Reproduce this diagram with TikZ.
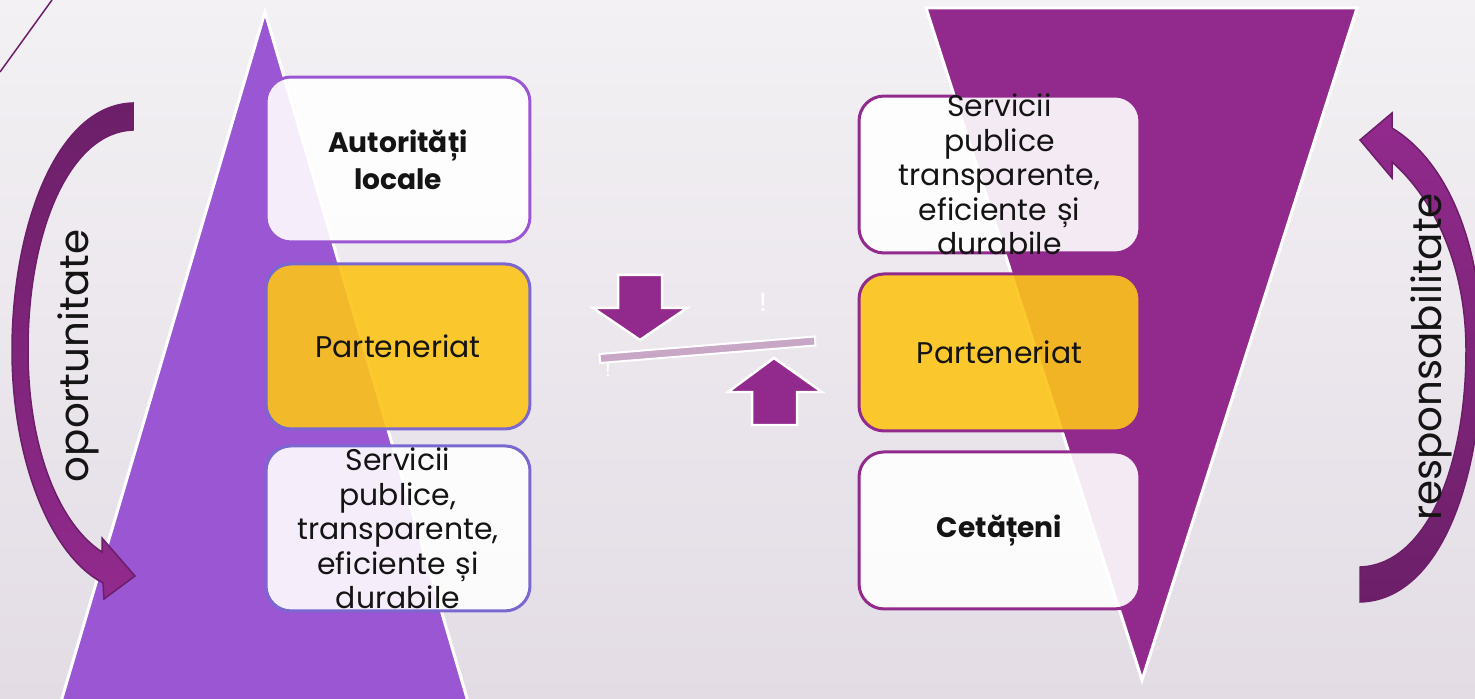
\documentclass[tikz,border=0pt]{standalone}
\usepackage{fontspec}
\setmainfont{Poppins}
\usetikzlibrary{positioning}

\definecolor{bgtop}{HTML}{F3F1F4}
\definecolor{bgbot}{HTML}{E3DCE5}
\definecolor{violet}{HTML}{9A56D3}
\definecolor{plum}{HTML}{922A8D}
\definecolor{plumdark}{HTML}{6C1F68}
\definecolor{gold}{HTML}{FCC419}
\definecolor{bluevio}{HTML}{7A68D0}
\definecolor{plankcol}{HTML}{C7A6C6}
\definecolor{ink}{HTML}{141414}

\newcommand\boxfont{\fontsize{17}{19.6}\selectfont}
\newcommand\boldfont{\fontsize{16}{21}\selectfont\bfseries}
\newcommand\sidefont{\fontsize{23}{24}\selectfont}

\tikzset{
  box/.style={rectangle, rounded corners=0.5cm, line width=0.06cm,
    fill opacity=0.9, inner sep=0pt},
  leftbox/.style={box, minimum width=5.28cm, minimum height=3.3cm},
  rightbox/.style={box, minimum width=5.62cm, minimum height=3.14cm},
  boxtext/.style={align=center, text width=5cm, text=ink, font=\boxfont},
  sidetext/.style={rotate=90, text=ink, font=\sidefont},
  bigarrow/.style={fill=plum, draw=white, line width=0.05cm},
}

\begin{document}
\begin{tikzpicture}[x=0.02cm, y=-0.02cm, node distance=0.36cm]

    % fond
    \useasboundingbox (0,0) rectangle (1475,699);
    \clip (0,0) rectangle (1475,699);
    \shade[top color=bgtop, bottom color=bgbot] (0,0) rectangle (1475,699);
    \draw[plumdark, line width=0.03cm] (0,72) -- (52,0);

    % triunghiuri
    \fill[violet, draw=white, line width=0.06cm] (265,12) -- (469,705) -- (60,705) -- cycle;
    \fill[plum, draw=white, line width=0.06cm] (926,8) -- (1357,8) -- (1142,680) -- cycle;

    % casete stanga
    \node[leftbox, draw=violet, fill=white]          (auth) at (398,159.5) {};
    \node[leftbox, draw=bluevio, fill=gold, below=0.38cm of auth] (partL) {};
    \node[leftbox, draw=bluevio, fill=white, below=0.28cm of partL] (servL) {};

    % casete dreapta
    \node[rightbox, draw=plum, fill=white]           (servR) at (999.5,174.5) {};
    \node[rightbox, draw=plum, fill=gold, below=of servR] (partR) {};
    \node[rightbox, draw=plum, fill=white, below=of partR] (cit) {};

    % texte
    \node[boxtext, font=\boldfont] (authT) at (auth) {Autorități\\locale};
    \node[boxtext] (partLT) at (partL) {Parteneriat};
    \node[boxtext] (servLT) at (servL) {Servicii\\publice,\\transparente,\\eficiente și\\durabile};
    \node[boxtext] (servRT) at (servR) {Servicii\\publice\\transparente,\\eficiente și\\durabile};
    \node[boxtext] (partRT) at (partR) {Parteneriat};
    \node[boxtext, font=\boldfont] (citT) at (cit) {Cetățeni};

    % balanta
    \draw[bigarrow] (618,275) -- (662,275) -- (662,308) -- (687,308) -- (640,340)
      -- (593,308) -- (618,308) -- cycle;
    \node[draw=white, fill=plankcol, line width=0.04cm, minimum width=4.32cm,
      minimum height=0.18cm, inner sep=0pt, rotate=4.65] (plank) at (707.5,349.75) {};
    \draw[bigarrow] (752,425) -- (797,425) -- (797,392) -- (822,392) -- (774,358)
      -- (728,392) -- (752,392) -- cycle;
    \node[text=white, font=\fontsize{15}{15}\selectfont] (bang1) at (763,302) {!};
    \node[text=white, font=\fontsize{11}{11}\selectfont] (bang2) at (608,370) {!};

    % sageti curbe
    \shadedraw[top color=plumdark, bottom color=plum, draw=plumdark, line width=0.03cm]
      (133,103) .. controls (55,105) and (12,230) .. (12,350)
      .. controls (12,460) and (50,555) .. (103,583)
      -- (104,599) -- (135,576) -- (102,538) -- (102,552)
      .. controls (60,525) and (28,450) .. (28,350)
      .. controls (28,230) and (70,132) .. (133,130) -- cycle;
    \shadedraw[top color=plum, bottom color=plumdark, draw=plumdark, line width=0.03cm]
      (1360,602) .. controls (1440,600) and (1482,480) .. (1482,350)
      .. controls (1482,240) and (1445,160) .. (1392,128)
      -- (1392,113) -- (1360,140) -- (1392,178) -- (1392,162)
      .. controls (1430,195) and (1466,260) .. (1466,350)
      .. controls (1466,470) and (1425,565) .. (1360,567) -- cycle;

    \node[sidetext] (opp) at (78,356) {oportunitate};
    \node[sidetext] (resp) at (1431,357) {responsabilitate};

\end{tikzpicture}
\end{document}
